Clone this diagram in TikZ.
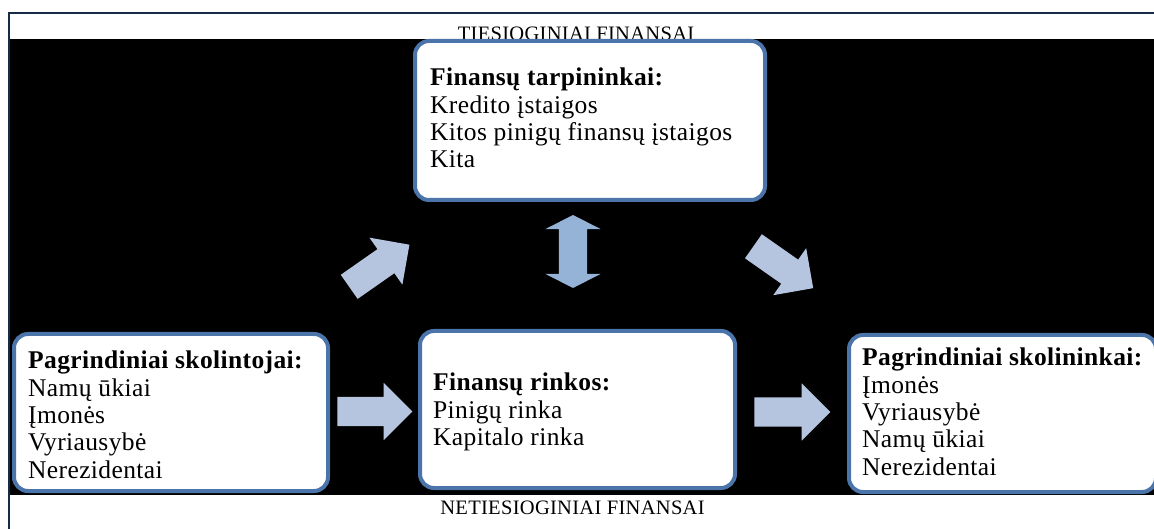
\documentclass[tikz,border=0pt]{standalone}
\usepackage{fontspec}
\setmainfont{Liberation Serif}[LetterSpace=1.5]
\usetikzlibrary{shapes.arrows}
\definecolor{framenavy}{RGB}{22,43,70}
\definecolor{boxblue}{RGB}{74,116,170}
\definecolor{arrowpale}{RGB}{182,197,223}
\definecolor{arrowmid}{RGB}{149,179,215}
\tikzset{
  sector/.style={draw=boxblue, line width=4pt, fill=white, rounded corners=14pt, inner sep=0pt},
  sectortext/.style={anchor=north west, align=left, inner sep=0pt, font=\fontsize{25.5}{27.3}\selectfont},
  flowarrow/.style={single arrow, fill=arrowpale, inner xsep=0pt, inner ysep=14.5pt,
    single arrow head extend=14pt, minimum height=75pt},
  caption/.style={anchor=base, inner sep=0pt, font=\fontsize{20.5}{24}\selectfont}
}
\begin{document}
\begin{tikzpicture}[x=1pt,y=-1pt]
\useasboundingbox (0,0) rectangle (1154,529);
\fill[white] (0,0) rectangle (1154,529);
\draw[framenavy, line width=2pt] (9,529) -- (9,13) -- (1160,13);
\node[caption] (direct) at (576,40.5) {TIESIOGINIAI FINANSAI};
\fill[black] (10,39) rectangle (1160,495);
% sectors
\node[sector, minimum width=350pt, minimum height=159pt] (tarp) at (590,120.5) {};
\node[sector, minimum width=314pt, minimum height=157pt] (lenders) at (171,412.5) {};
\node[sector, minimum width=315pt, minimum height=157pt] (markets) at (577.5,409.5) {};
\node[sector, minimum width=307pt, minimum height=157pt] (borrowers) at (1002.5,413.5) {};
\node[sectortext] (tarptext) at (430,68) {\textbf{Finansų tarpininkai:}\\Kredito įstaigos\\Kitos pinigų finansų įstaigos\\Kita};
\node[sectortext] (lenderstext) at (28,351) {\textbf{Pagrindiniai skolintojai:}\\Namų ūkiai\\Įmonės\\Vyriausybė\\Nerezidentai};
\node[sectortext] (marketstext) at (433,373) {\textbf{Finansų rinkos:}\\Pinigų rinka\\Kapitalo rinka};
\node[sectortext] (borrowerstext) at (862,348) {\textbf{Pagrindiniai skolininkai:}\\Įmonės\\Vyriausybė\\Namų ūkiai\\Nerezidentai};
% flows
\node[flowarrow] (toMarkets) at (367.5,411.5) {};
\node[flowarrow, minimum height=76pt] (toBorrowers) at (785,412) {};
\node[flowarrow, minimum height=73.5pt, rotate=35] (toTarp) at (373.3,270) {};
\node[flowarrow, minimum height=73pt, rotate=-35] (fromTarp) at (777.3,263) {};
\node[double arrow, fill=arrowmid, inner xsep=0pt, inner ysep=14pt, double arrow head extend=13.5pt,
  double arrow tip angle=126, minimum height=73pt, rotate=90] (swap) at (573,251.5) {};
\node[caption] (indirect) at (572.5,514) {NETIESIOGINIAI FINANSAI};
\end{tikzpicture}
\end{document}
